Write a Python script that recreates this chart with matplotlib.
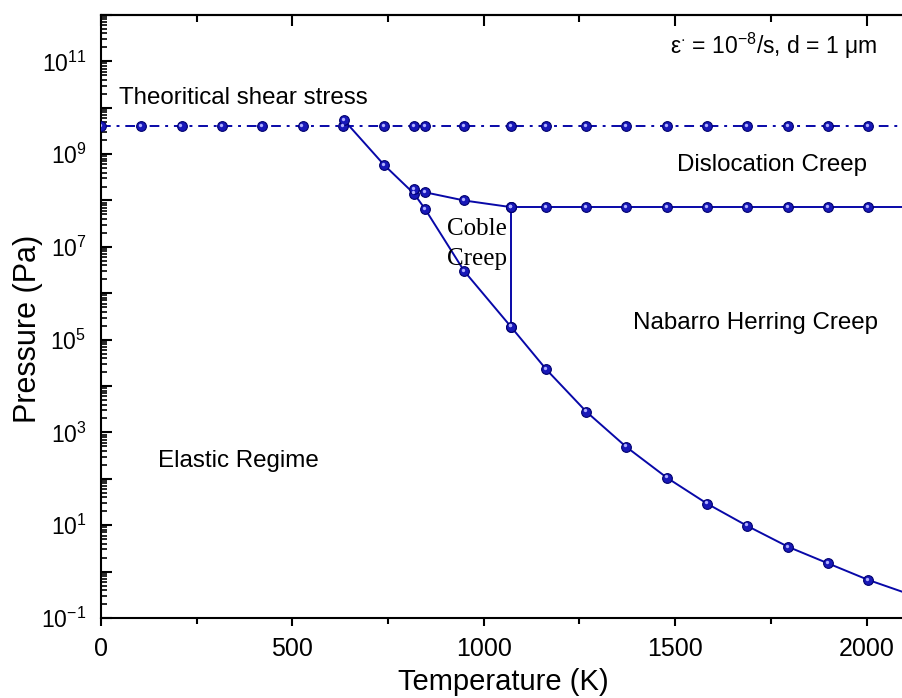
import math
import matplotlib
matplotlib.use('Agg')
import matplotlib.pyplot as plt
import matplotlib.ticker as ticker
from matplotlib.transforms import offset_copy

plt.rcParams['font.family'] = ['Liberation Sans', 'DejaVu Sans']
plt.rcParams['mathtext.fontset'] = 'custom'
plt.rcParams['mathtext.rm'] = 'Liberation Sans'
plt.rcParams['mathtext.it'] = 'Liberation Sans:italic'
plt.rcParams['mathtext.bf'] = 'Liberation Sans:bold'

# theoretical shear stress (flat line), last point only extends the line to the edge
shear_T = [0, 105, 211, 316, 422, 527, 633, 740, 818, 847, 949, 1071, 1163,
           1268, 1372, 1479, 1584, 1688, 1796, 1900, 2005, 2110]
shear_P = [4.0e9] * len(shear_T)

# elastic / creep boundary
elastic_T = [635, 740, 818, 847, 949, 1071, 1163, 1268, 1372, 1479, 1584,
             1688, 1796, 1900, 2005, 2110]
elastic_P = [5.4e9, 5.8e8, 1.4e8, 6.5e7, 3.0e6, 1.9e5, 2.3e4, 2.8e3, 490,
             105, 29, 9.7, 3.4, 1.5, 0.66, 0.33]

# coble / dislocation boundary
coble_T = [818, 847, 949, 1071]
coble_P = [1.75e8, 1.5e8, 1.0e8, 7.2e7]

# dislocation / nabarro-herring boundary
disl_T = [1071, 1163, 1268, 1372, 1479, 1584, 1688, 1796, 1900, 2005, 2110]
disl_P = [7.2e7] * len(disl_T)

# coble / nabarro-herring boundary
nh_T = [1071, 1071]
nh_P = [7.2e7, 1.9e5]

LINE = '#0808a8'


def balls(ax, x, y):
    """Shaded round markers"""
    ax.plot(x, y, ls='none', marker='o', ms=7, mfc='#1818b8', mec='#00006e',
            mew=0.8, zorder=4)
    hl = offset_copy(ax.transData, fig=ax.figure, x=-1.0, y=1.0, units='points')
    ax.plot(x, y, ls='none', marker='o', ms=2.4, mfc='#b0b0ff', mec='none',
            transform=hl, zorder=5)


fig = plt.figure(figsize=(9.03, 6.98), dpi=100)
ax = fig.add_axes([0.1118, 0.1146, 0.8882 + 0.002, 0.864])

ax.plot(shear_T, shear_P, color=LINE, lw=1.4, ls=(0, (5, 3, 1.5, 3)))
ax.plot(elastic_T, elastic_P, color=LINE, lw=1.4)
ax.plot(coble_T, coble_P, color=LINE, lw=1.4)
ax.plot(disl_T, disl_P, color=LINE, lw=1.4)
ax.plot(nh_T, nh_P, color=LINE, lw=1.4)

balls(ax, shear_T[:-1], shear_P[:-1])
balls(ax, elastic_T[:-1], elastic_P[:-1])
balls(ax, coble_T, coble_P)
balls(ax, disl_T[:-1], disl_P[:-1])
balls(ax, nh_T, nh_P)

ax.set_yscale('log')
ax.set_xlim(0, 2100)
ax.set_ylim(1e-1, 1e12)

# axis styling
for s in ['left', 'bottom', 'top']:
    ax.spines[s].set_linewidth(1.5)
ax.spines['right'].set_visible(False)

ax.xaxis.set_major_locator(ticker.MultipleLocator(500))
ax.xaxis.set_minor_locator(ticker.MultipleLocator(250))
ax.tick_params(axis='x', which='major', direction='out', length=6, width=1.5,
               labelsize=18, pad=8, top=False)
ax.tick_params(axis='x', which='minor', direction='out', length=4, width=1.5,
               top=False)

ax.yaxis.set_major_locator(ticker.LogLocator(base=10, numticks=20))
ax.yaxis.set_minor_locator(ticker.LogLocator(base=10, subs=range(2, 10), numticks=20))
ax.yaxis.set_minor_formatter(ticker.NullFormatter())


def dec_fmt(v, pos):
    e = int(round(math.log10(v)))
    return r'$\mathregular{10^{%d}}$' % e if e % 2 else ''


ax.yaxis.set_major_formatter(ticker.FuncFormatter(dec_fmt))
ax.tick_params(axis='y', which='major', direction='in', length=8, width=1.5,
               labelsize=16.5, pad=10.5, right=False)
ax.tick_params(axis='y', which='minor', direction='in', length=4, width=1.2,
               right=False)

top = ax.secondary_xaxis('top')
top.xaxis.set_major_locator(ticker.MultipleLocator(500))
top.xaxis.set_minor_locator(ticker.MultipleLocator(250))
top.tick_params(which='major', direction='in', length=8, width=1.5, labeltop=False)
top.tick_params(which='minor', direction='in', length=5, width=1.5)
top.spines['top'].set_linewidth(1.5)

ax.set_xlabel('Temperature (K)', fontsize=21, labelpad=5)
ax.set_ylabel('Pressure (Pa)', fontsize=22)
ax.yaxis.set_label_coords(-0.072, 0.479)

# region labels
ax.text(47, 1.6e10, 'Theoritical shear stress', fontsize=17.4, va='center')
ax.text(1505, 5.8e8, 'Dislocation Creep', fontsize=17.4, va='center')
ax.text(1390, 2.3e5, 'Nabarro Herring Creep', fontsize=17.4, va='center')
ax.text(149, 2.4e2, 'Elastic Regime', fontsize=17.4, va='center')
ax.text(983, 1.15e7, 'Coble\nCreep', fontsize=18, family='Liberation Serif',
        ha='center', va='center', linespacing=1.5)
ax.text(2028, 2.1e11, r'ε$^{\cdot}$ = 10$^{\mathregular{-8}}$/s, d = 1 μm',
        fontsize=16.5, ha='right', va='center')

fig.savefig('out.png', dpi=100)
